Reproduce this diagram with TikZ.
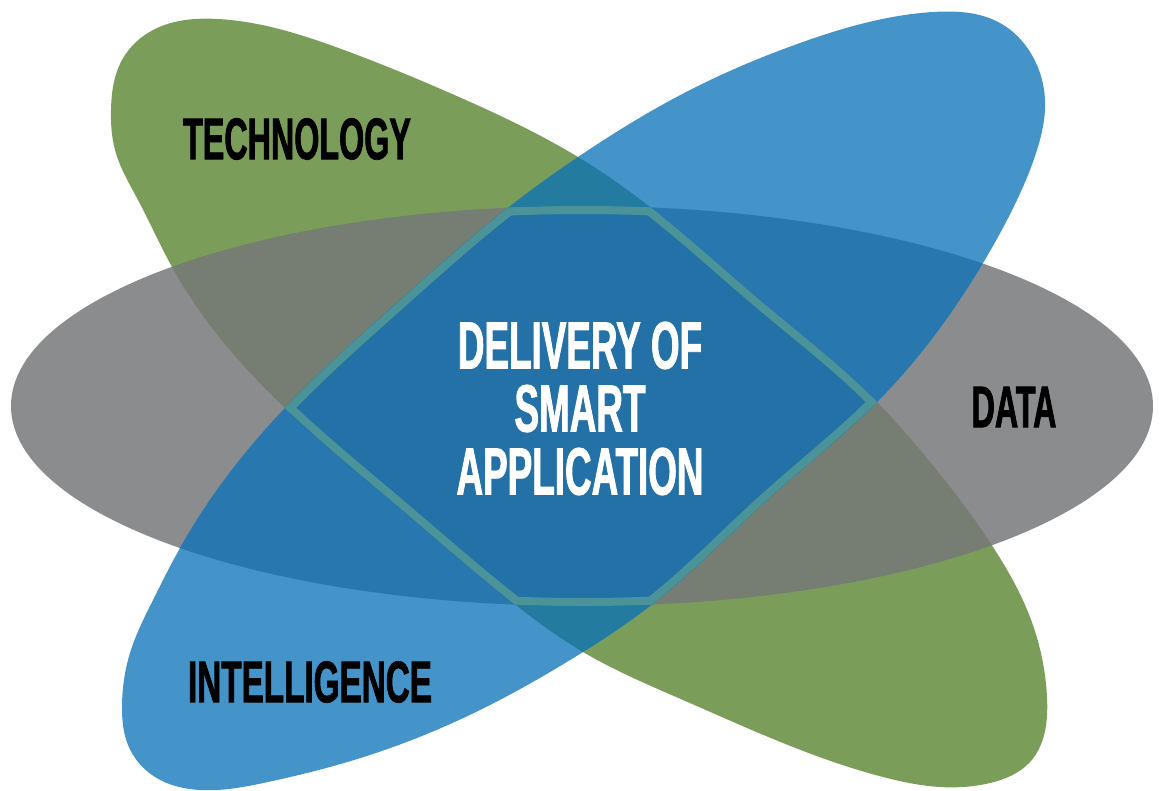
\documentclass[tikz,border=0pt]{standalone}
\usepackage{fontspec}
\setmainfont[FakeStretch=0.55,FakeBold=1.2]{Liberation Sans}
\usetikzlibrary{hobby}
\definecolor{cgreen}{HTML}{7A9E5A}
\definecolor{cblue}{HTML}{4493C9}
\definecolor{cgrey}{HTML}{8A8C8D}
\definecolor{cgg}{HTML}{767D72}
\definecolor{cbgrey}{HTML}{2877AE}
\definecolor{cbgreen}{HTML}{237C9F}
\definecolor{ccenter}{HTML}{2371A7}
\definecolor{cteal}{HTML}{4A9499}
\def\greypath{(582,406) ellipse [x radius=571, y radius=200]}
\def\greenpath{plot[closed hobby] coordinates {(218,19) (344,50) (459,97) (578,157) (650,207) (762,302) (877,402) (920,450) (993,547) (1030,617) (1047,697) (1030,762) (990,783) (940,787) (883,777) (783,743) (683,700) (583,652) (517,606) (400,508) (285,408) (172,267) (138,200) (115,150) (111,110) (122,60) (153,30)}}
\def\bluepath{plot[closed hobby] coordinates {(700,85) (800,43) (933,12) (1000,23) (1033,57) (1045,100) (1037,150) (1017,200) (983,263) (877,402) (767,500) (650,606) (583,652) (459,720) (344,763) (268,782) (200,790) (155,777) (128,745) (122,707) (130,653) (153,600) (180,548) (285,408) (398,302) (509,207) (578,157)}}
\tikzset{
  label/.style={inner sep=0pt, font=\fontsize{58.7}{63}\selectfont, text=black},
  centertext/.style={inner sep=0pt, align=center, font=\fontsize{67}{63}\selectfont, text=white}
}
\begin{document}
\begin{tikzpicture}[x=1pt,y=-1pt]
\useasboundingbox (0,0) rectangle (1161,790);
% base shapes
\fill[cgrey] \greypath;
\fill[cgreen] \greenpath;
\fill[cblue] \bluepath;
% pairwise overlaps
\begin{scope}
  \clip \greenpath;
  \fill[cgg] \greypath;
\end{scope}
\begin{scope}
  \clip \bluepath;
  \fill[cbgrey] \greypath;
\end{scope}
\begin{scope}
  \clip \bluepath;
  \fill[cbgreen] \greenpath;
\end{scope}
% triple overlap with inner band
\begin{scope}
  \clip \bluepath;
  \clip \greenpath;
  \clip \greypath;
  \fill[ccenter] (0,0) rectangle (1161,790);
  \draw[cteal, line width=16pt] \greypath;
  \draw[cteal, line width=16pt] \greenpath;
  \draw[cteal, line width=16pt] \bluepath;
\end{scope}
% labels
\node[label] (tech) at (297,139) {\bfseries TECHNOLOGY};
\node[label] (data) at (1014,407) {\bfseries DATA};
\node[label, xscale=1.03] (intel) at (310,682) {\bfseries INTELLIGENCE};
\node[centertext] (center) at (580,408.5) {\bfseries DELIVERY OF\\\bfseries SMART\\\bfseries APPLICATION};
\end{tikzpicture}
\end{document}
